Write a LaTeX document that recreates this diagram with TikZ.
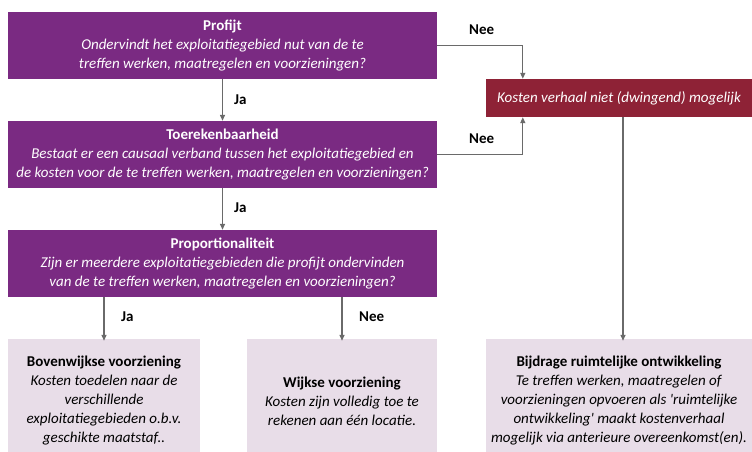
\documentclass[tikz,border=0pt]{standalone}
\usepackage{fontspec}
\setmainfont{Carlito}[Extension=.ttf, UprightFont=*-Regular, BoldFont=*-Bold, ItalicFont=*-Italic, BoldItalicFont=*-BoldItalic]
\usetikzlibrary{arrows.meta,positioning}
\definecolor{paars}{HTML}{7A2A82}
\definecolor{rood}{HTML}{8E2236}
\definecolor{licht}{HTML}{E8DDE8}
\definecolor{pijl}{HTML}{6A6A6A}
\tikzset{
  vraagbox/.style={fill=paars, text=white, minimum width=429pt, minimum height=67pt, inner sep=0pt, align=center, font=\fontsize{15}{19}\selectfont},
  roodbox/.style={fill=rood, text=white, minimum width=266pt, minimum height=38pt, inner sep=0pt, align=center, font=\fontsize{15}{19}\selectfont\itshape},
  uitbox/.style={fill=licht, text=black, inner sep=0pt, align=center, font=\fontsize{15}{19}\selectfont},
  pijlstijl/.style={draw=pijl, line width=1.3pt, -{Triangle[length=6pt,width=5pt]}},
  keuze/.style={font=\fontsize{15}{19}\selectfont\bfseries, text=black, inner sep=0pt}
}
\begin{document}
\begin{tikzpicture}[x=1pt,y=-1pt]
\clip (0,0) rectangle (752,452);
\fill[white] (0,0) rectangle (752,452);
\node[vraagbox] (profijt) at (222.5,45.5) {\textbf{Profijt}\\\textit{Ondervindt het exploitatiegebied nut van de te}\\\textit{treffen werken, maatregelen en voorzieningen?}};
\node[vraagbox] (toerek) at (222.5,154.5) {\textbf{Toerekenbaarheid}\\\textit{Bestaat er een causaal verband tussen het exploitatiegebied en}\\\textit{de kosten voor de te treffen werken, maatregelen en voorzieningen?}};
\node[vraagbox] (prop) at (222.5,263.5) {\textbf{Proportionaliteit}\\\textit{Zijn er meerdere exploitatiegebieden die profijt ondervinden}\\\textit{van de te treffen werken, maatregelen en voorzieningen?}};
\node[roodbox] (rood) at (619,98) {Kosten verhaal niet (dwingend) mogelijk};
\node[uitbox, minimum width=192pt, minimum height=124pt] (bl) at (104,401) {\textbf{Bovenwijkse voorziening}\\\textit{Kosten toedelen naar de}\\\textit{verschillende}\\\textit{exploitatiegebieden o.b.v.}\\\textit{geschikte maatstaf..}};
\node[uitbox, minimum width=190pt, minimum height=124pt] (bm) at (342,401) {\textbf{Wijkse voorziening}\\\textit{Kosten zijn volledig toe te}\\\textit{rekenen aan één locatie.}};
\node[uitbox, minimum width=266pt, minimum height=124pt] (br) at (619,401) {\textbf{Bijdrage ruimtelijke ontwikkeling}\\\textit{Te treffen werken, maatregelen of}\\\textit{voorzieningen opvoeren als \textquotesingle ruimtelijke}\\\textit{ontwikkeling\textquotesingle{} maakt kostenverhaal}\\\textit{mogelijk via anterieure overeenkomst(en).}};
\coordinate (rn) at ([xshift=37pt]rood.north west);
\coordinate (rs) at ([xshift=37pt]rood.south west);
\draw[pijlstijl] (profijt.south) -- (toerek.north);
\draw[pijlstijl] (toerek.south) -- (prop.north);
\draw[pijlstijl] (profijt.east) -| (rn);
\draw[pijlstijl] (toerek.east) -| (rs);
\draw[pijlstijl] (prop.south -| bl.north) -- ([yshift=-2pt]bl.north);
\draw[pijlstijl] (prop.south -| bm.north) -- ([yshift=-2pt]bm.north);
\draw[pijlstijl] ([xshift=4pt]rood.south) -- ([xshift=4pt,yshift=-2pt]br.north);
\node[keuze, anchor=west] (ja1) at (234,100) {Ja};
\node[keuze, anchor=west] (ja2) at (234,208) {Ja};
\node[keuze, anchor=west] (nee1) at (469,30) {Nee};
\node[keuze, anchor=west] (nee2) at (469,139) {Nee};
\node[keuze, anchor=west] (ja3) at (121,317) {Ja};
\node[keuze, anchor=west] (nee3) at (359,317) {Nee};
\end{tikzpicture}
\end{document}
